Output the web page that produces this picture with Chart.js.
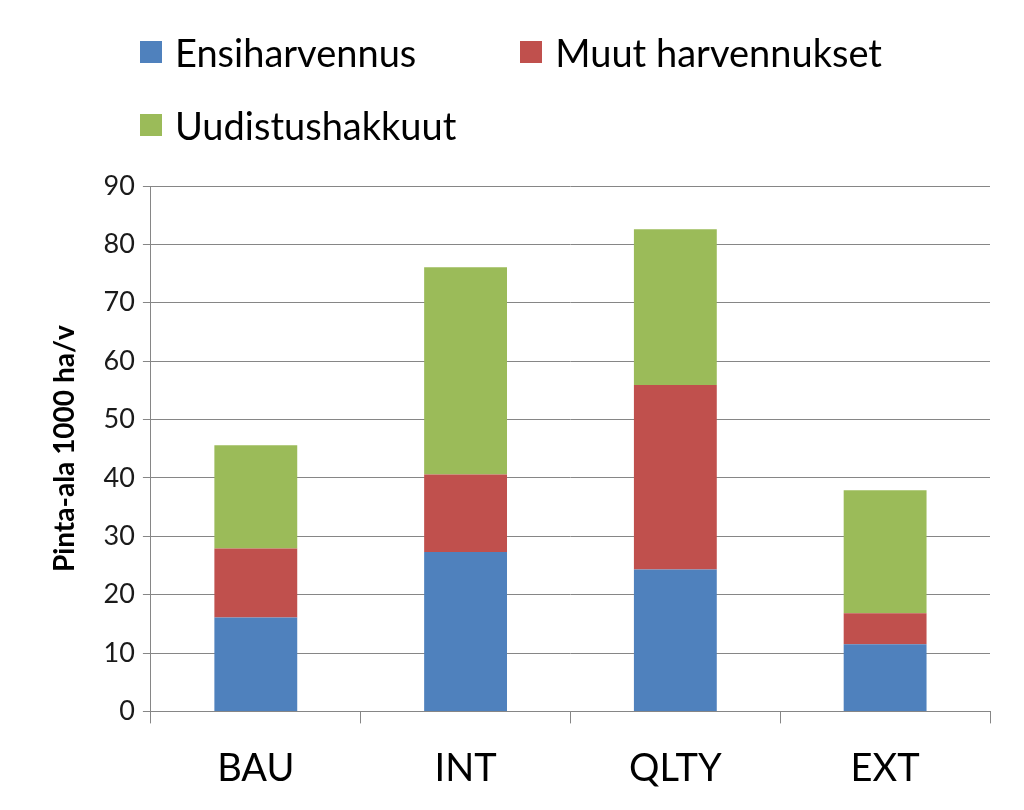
<!DOCTYPE html>
<html>
<head>
<meta charset="utf-8">
<script src="https://cdn.jsdelivr.net/npm/chart.js@4.4.0/dist/chart.umd.min.js"></script>
<style>
  html, body { margin: 0; padding: 0; background: #fff; overflow: hidden; }
  #wrap { position: relative; width: 1024px; height: 810px; overflow: hidden; }
  #legend { position: absolute; left: 140px; top: 22px; width: 860px; display: flex; flex-wrap: wrap;
            font-family: Lato, "Noto Sans", sans-serif; font-size: 38px; color: #000; }
  #legend .item { display: flex; align-items: center; height: 60px; margin-right: 104px; margin-bottom: 13px; }
  #legend .box { width: 22px; height: 22px; margin-right: 13px; }
</style>
</head>
<body>
<div id="wrap">
  <canvas id="chart" width="1024" height="815"></canvas>
  <div id="legend"></div>
</div>
<script>
// ===== Data =====
const categories = ["BAU", "INT", "QLTY", "EXT"];
const ensiharvennus = [16.1, 27.3, 24.3, 11.5];
const muutHarvennukset = [11.8, 13.3, 31.6, 5.3];
const uudistushakkuut = [17.7, 35.5, 26.7, 21.1];
const yTicks = [0, 10, 20, 30, 40, 50, 60, 70, 80, 90];

const seriesNames = ["Ensiharvennus", "Muut harvennukset", "Uudistushakkuut"];
const seriesColors = ["#4F81BD", "#C0504D", "#9BBB59"];
const seriesData = [ensiharvennus, muutHarvennukset, uudistushakkuut];

const gridGray = "#868686";

// ===== Chart =====
const ctx = document.getElementById("chart").getContext("2d");
const chart = new Chart(ctx, {
  type: "bar",
  data: {
    labels: categories,
    datasets: seriesNames.map((name, i) => ({
      label: name,
      data: seriesData[i],
      backgroundColor: seriesColors[i],
      borderWidth: 0,
      categoryPercentage: 1,
      barPercentage: 0.395
    }))
  },
  options: {
    responsive: false,
    animation: false,
    layout: { padding: { top: 186, right: 34, left: 48, bottom: 0 } },
    plugins: {
      legend: { display: false },
      tooltip: { enabled: false }
    },
    scales: {
      x: {
        stacked: true,
        grid: { drawOnChartArea: false, drawTicks: true, tickLength: 12, color: gridGray, offset: true },
        border: { color: gridGray, width: 1 },
        ticks: { font: { family: "Lato", size: 38 }, color: "#000", padding: 23 }
      },
      y: {
        stacked: true,
        min: 0,
        max: 90,
        afterBuildTicks: axis => { axis.ticks = yTicks.map(v => ({ value: v })); },
        grid: { color: gridGray, tickLength: 8, lineWidth: 1 },
        border: { color: gridGray, width: 1 },
        ticks: { font: { family: "Lato", size: 27 }, color: "#1a1a1a", padding: 8 },
        title: {
          display: true,
          text: "Pinta-ala 1000 ha/v",
          font: { family: "Lato", size: 28, weight: "bold" },
          color: "#000",
          padding: { top: 0, bottom: 14 }
        }
      }
    }
  }
});

// ===== Legend (HTML, built from the datasets) =====
const legendEl = document.getElementById("legend");
chart.data.datasets.forEach(ds => {
  const item = document.createElement("div");
  item.className = "item";
  const box = document.createElement("span");
  box.className = "box";
  box.style.background = ds.backgroundColor;
  const txt = document.createElement("span");
  txt.textContent = ds.label;
  item.appendChild(box);
  item.appendChild(txt);
  legendEl.appendChild(item);
});
</script>
</body>
</html>
